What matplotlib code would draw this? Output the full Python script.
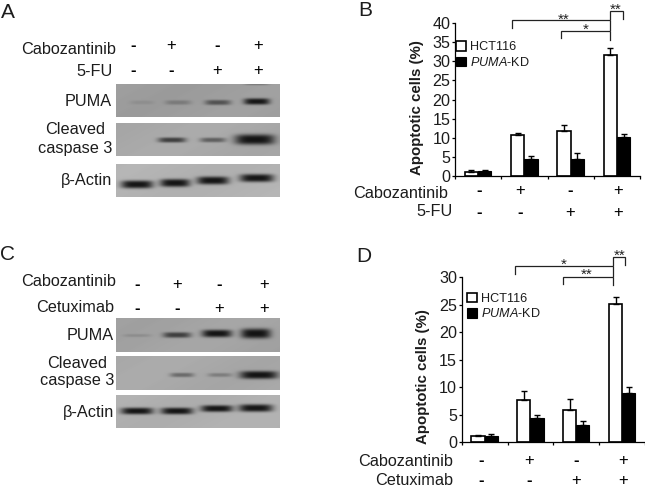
import numpy as np
import matplotlib
matplotlib.use('Agg')
import matplotlib.pyplot as plt

plt.rcParams['font.family'] = ['Liberation Sans', 'DejaVu Sans']
plt.rcParams['mathtext.fontset'] = 'custom'
plt.rcParams['mathtext.it'] = 'Liberation Sans:italic'
plt.rcParams['mathtext.rm'] = 'Liberation Sans'

W, H = 645, 487
SERIES = ['HCT116', r'$\mathit{PUMA}$-KD']
YLABEL = 'Apoptotic cells (%)'
DRUG_A = ['Cabozantinib', '5-FU']
DRUG_C = ['Cabozantinib', 'Cetuximab']
ROW1 = ['-', '+', '-', '+']
ROW2 = ['-', '-', '+', '+']

b_hct = [1.1, 10.6, 11.8, 31.6]
b_hct_err = [0.3, 0.6, 1.5, 1.9]
b_kd = [1.2, 4.5, 4.5, 10.2]
b_kd_err = [0.3, 0.7, 1.4, 0.8]

d_hct = [1.2, 7.7, 5.9, 25.2]
d_hct_err = [0.2, 1.6, 1.9, 1.2]
d_kd = [1.2, 4.4, 3.1, 9.0]
d_kd_err = [0.3, 0.6, 0.8, 1.1]

# band strength per lane (0 = absent)
a_puma = [0.10, 0.25, 0.55, 0.98]
a_casp = [0.0, 0.72, 0.5, 1.0]
a_actin = [1.0, 1.0, 1.0, 1.0]
c_puma = [0.14, 0.7, 1.0, 1.0]
c_casp = [0.0, 0.42, 0.28, 1.0]
c_actin = [1.0, 1.0, 1.0, 1.0]

fig = plt.figure(figsize=(W / 100, H / 100), dpi=100, facecolor='white')
ov = fig.add_axes([0, 0, 1, 1], zorder=5)
ov.set_xlim(0, W)
ov.set_ylim(H, 0)
ov.axis('off')
ov.patch.set_alpha(0)
TC = '#1c1c1c'


def blot(x0, x1, y0, y1, bg, xs, ys, hw, hh, strength):
    nx, ny = (x1 - x0) * 2, (y1 - y0) * 2
    X, Y = np.meshgrid(np.linspace(x0, x1, nx), np.linspace(y0, y1, ny))
    img = np.full(X.shape, bg, dtype=float)
    img = img + 0.012 * np.sin(X / 31.0 + Y / 17.0)
    for i, s in enumerate(strength):
        if s <= 0:
            continue
        prof = np.exp(-np.abs((X - xs[i]) / hw[i]) ** 4 - np.abs((Y - ys[i]) / hh[i]) ** 3)
        img = img * (1 - s * prof * 0.88)
    ov.imshow(np.clip(img, 0, 1), cmap='gray', vmin=0, vmax=1, extent=(x0, x1, y1, y0),
              aspect='auto', interpolation='bilinear', zorder=1)


# Panel A blots
blot(116, 280, 84, 117, 0.62, [142, 178, 218, 257, 257], [102.5, 102.5, 102.5, 101.5, 83.5],
     [12, 13, 13, 13, 12], [2, 2.3, 2.6, 3.2, 1.5], a_puma + [0.3])
blot(116, 280, 123, 156, 0.66, [142, 172, 213, 255], [140, 140, 140, 139.5],
     [12, 14, 13, 20], [2, 2.6, 2.4, 5.2], a_casp)
blot(116, 280, 164, 197, 0.70, [137, 175, 213, 257], [184.5, 183, 180.5, 178],
     [16, 15, 16, 17], [4, 4, 4, 4], a_actin)

# Panel C blots
blot(116, 280, 318, 352, 0.64, [137, 177, 217, 256], [335.5, 335, 333.5, 333.5],
     [14, 14, 15, 15], [1.6, 2.8, 3.8, 5], c_puma)
blot(116, 280, 356, 390, 0.66, [142, 182, 220, 259], [375, 375, 375, 375],
     [12, 12, 12, 19], [2, 2.2, 2, 4], c_casp)
blot(116, 280, 395, 428, 0.69, [137, 177, 217, 256], [411, 411, 408.5, 408],
     [16, 16, 16, 17], [3.4, 3.4, 3.4, 3.8], c_actin)


def txt(x, y, s, ha='right', fs=11.7, **k):
    ov.text(x, y, s, ha=ha, va='center', fontsize=fs, color=TC, zorder=6, **k)


def signs(xs, y1, y2):
    for x, a, b in zip(xs, ROW1, ROW2):
        for y, s in ((y1, a), (y2, b)):
            ov.text(x, y, s, ha='center', va='center', fontsize=12, color='black',
                    fontweight='bold' if s == '-' else 'normal', zorder=6)


# Panel letters
txt(1, 12, 'A', ha='left', fs=15)
txt(358, 10, 'B', ha='left', fs=15)
txt(0, 255, 'C', ha='left', fs=15)
txt(356, 257, 'D', ha='left', fs=15)

# Panel A labels
txt(115.5, 49.5, DRUG_A[0])
txt(112.5, 71, DRUG_A[1])
signs([133, 171, 217, 258], 45.5, 70)
txt(112, 101, 'PUMA')
txt(75, 129, 'Cleaved', ha='center')
txt(112, 148, 'caspase 3')
txt(112.5, 180, '\u03b2-Actin')

# Panel C labels
txt(116, 281.5, DRUG_C[0])
txt(114.5, 307, DRUG_C[1])
signs([137, 177, 219, 264], 284, 309)
txt(114, 335, 'PUMA')
txt(77, 363, 'Cleaved', ha='center')
txt(114, 381, 'caspase 3')
txt(114.5, 412, '\u03b2-Actin')

# Panel B/D condition labels
txt(448.5, 193, DRUG_A[0])
txt(452.5, 212, DRUG_A[1])
signs([479, 520, 570, 618.5], 191, 212)
txt(453, 461.5, DRUG_C[0])
txt(453, 480.5, DRUG_C[1])
signs([481.5, 529, 576, 623], 460.5, 480)


def chart(x0, x1, ytop, y0, ymax, yticks, white, werr, black, berr, ylab_x, ylab_y, leg_xy):
    ax = fig.add_axes([x0 / W, 1 - y0 / H, (x1 - x0) / W, (y0 - ytop) / H], zorder=3)
    ax.patch.set_alpha(0)
    x = np.arange(4)
    bw = 0.287
    eb = dict(ecolor='black', elinewidth=1.0, capsize=2.2, capthick=1.0)
    h1 = ax.bar(x - bw / 2, white, bw, color='white', edgecolor='black', linewidth=1.2,
                yerr=[np.zeros(4), werr], error_kw=eb, label=SERIES[0])
    h2 = ax.bar(x + bw / 2, black, bw, color='black', edgecolor='black', linewidth=0.8,
                yerr=[np.zeros(4), berr], error_kw=eb, label=SERIES[1])
    ax.set_xlim(-0.5, 3.5)
    ax.set_ylim(0, ymax)
    ax.set_yticks(yticks)
    ax.set_xticks(np.arange(5) - 0.5)
    ax.set_xticklabels([])
    ax.tick_params(axis='y', labelsize=11.6, length=2.4, width=0.9, pad=1.0, labelcolor=TC)
    ax.tick_params(axis='x', length=2.2, width=0.9)
    for s in ('top', 'right'):
        ax.spines[s].set_visible(False)
    for s in ('left', 'bottom'):
        ax.spines[s].set_linewidth(0.9)
    ov.text(ylab_x, ylab_y, YLABEL, rotation=90, ha='center', va='center', fontsize=10.8,
            fontweight='bold', color=TC, zorder=6)
    ax.legend(handles=[h1, h2], loc='upper left', bbox_to_anchor=leg_xy,
              bbox_transform=ov.transData, frameon=False, fontsize=9.1, borderpad=0,
              borderaxespad=0, handlelength=0.8, handleheight=0.8, handletextpad=0.3,
              labelspacing=0.2, labelcolor=TC)
    return ax


chart(455, 640, 23.3, 175.7, 40, range(0, 41, 5), b_hct, b_hct_err, b_kd, b_kd_err,
      417, 108, (456, 41))
chart(461.7, 645, 277.3, 442.3, 30, range(0, 31, 5), d_hct, d_hct_err, d_kd, d_kd_err,
      423, 377, (467, 292.5))


def bracket(x0, x1, y, leg0, leg1):
    ov.plot([x0, x0, x1, x1], [leg0, y, y, leg1], color='#222222', lw=0.9, zorder=6,
            solid_joinstyle='miter', scalex=False, scaley=False)


def star(x, y, s):
    ov.text(x, y, s, ha='center', va='center', fontsize=11, color='#222222', zorder=6)


bracket(511.7, 610, 20.3, 27.5, 29.5)
bracket(560.7, 610, 30.7, 37.5, 39.5)
bracket(610, 622.5, 11.3, 19, 19)
star(564, 19.5, '**')
star(585.7, 30, '*')
star(616, 9.5, '**')

bracket(515, 613.3, 266, 274, 276)
bracket(563.3, 613.3, 277.3, 284, 285)
bracket(613.3, 625, 257.3, 265, 265)
star(564, 265, '*')
star(586.7, 275, '**')
star(619.3, 255.5, '**')

fig.savefig('out.png', dpi=100, facecolor='white')
